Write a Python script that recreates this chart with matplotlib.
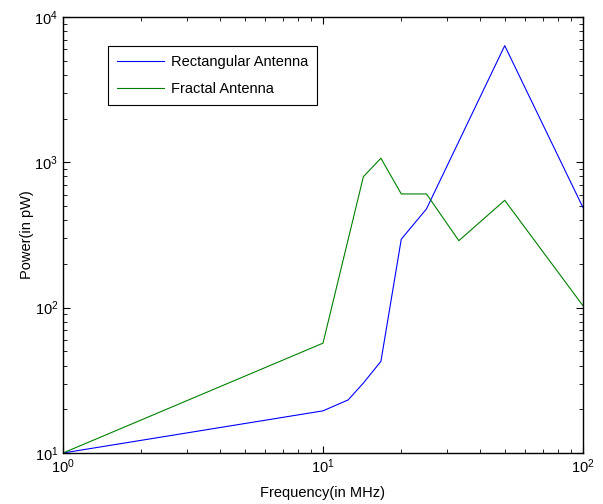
import matplotlib
matplotlib.use("Agg")
import matplotlib.pyplot as plt

plt.rcParams['font.family'] = ['Liberation Sans', 'DejaVu Sans']
plt.rcParams['mathtext.fontset'] = 'custom'
plt.rcParams['mathtext.rm'] = 'Liberation Sans'
plt.rcParams['mathtext.it'] = 'Liberation Sans'

# --------- DATA ---------
freq_rect = [1, 10, 12.5, 14.3, 16.7, 20, 25, 50, 100]
power_rect = [10, 19.5, 23.2, 30.3, 42.7, 296, 478, 6350, 488]

freq_fractal = [1, 10, 14.3, 16.7, 20, 25, 33.3, 50, 100]
power_fractal = [10, 57, 797, 1067, 606, 606, 289, 548, 103]

# --------- PLOT ---------
fig = plt.figure(figsize=(6.03, 5.04), dpi=100)
ax = fig.add_axes([63 / 603, 51 / 504, 520 / 603, 436 / 504])

ax.loglog(freq_rect, power_rect, color='#0000ff', lw=0.8, label='Rectangular Antenna')
ax.loglog(freq_fractal, power_fractal, color='#008000', lw=0.8, label='Fractal Antenna')

ax.set_xlim(1, 100)
ax.set_ylim(10, 1e4)
ax.set_xlabel('Frequency(in MHz)', fontsize=10.5, labelpad=7)
ax.set_ylabel('Power(in pW)', fontsize=10.5, labelpad=0)

ax.tick_params(which='both', direction='in', top=True, right=True, labelsize=10.5)
ax.tick_params(which='major', length=5, width=0.8)
ax.tick_params(which='minor', length=3, width=0.6)
for s in ax.spines.values():
    s.set_linewidth(1.0)

leg = ax.legend(loc='upper left', bbox_to_anchor=(45 / 520, 1 - 29 / 436),
                borderaxespad=0, fontsize=10.5, fancybox=False, framealpha=1,
                edgecolor='black', handlelength=3.2, handletextpad=0.45,
                borderpad=0.65, labelspacing=0.85)
leg.get_frame().set_linewidth(0.8)

fig.savefig('out.png', dpi=100)
